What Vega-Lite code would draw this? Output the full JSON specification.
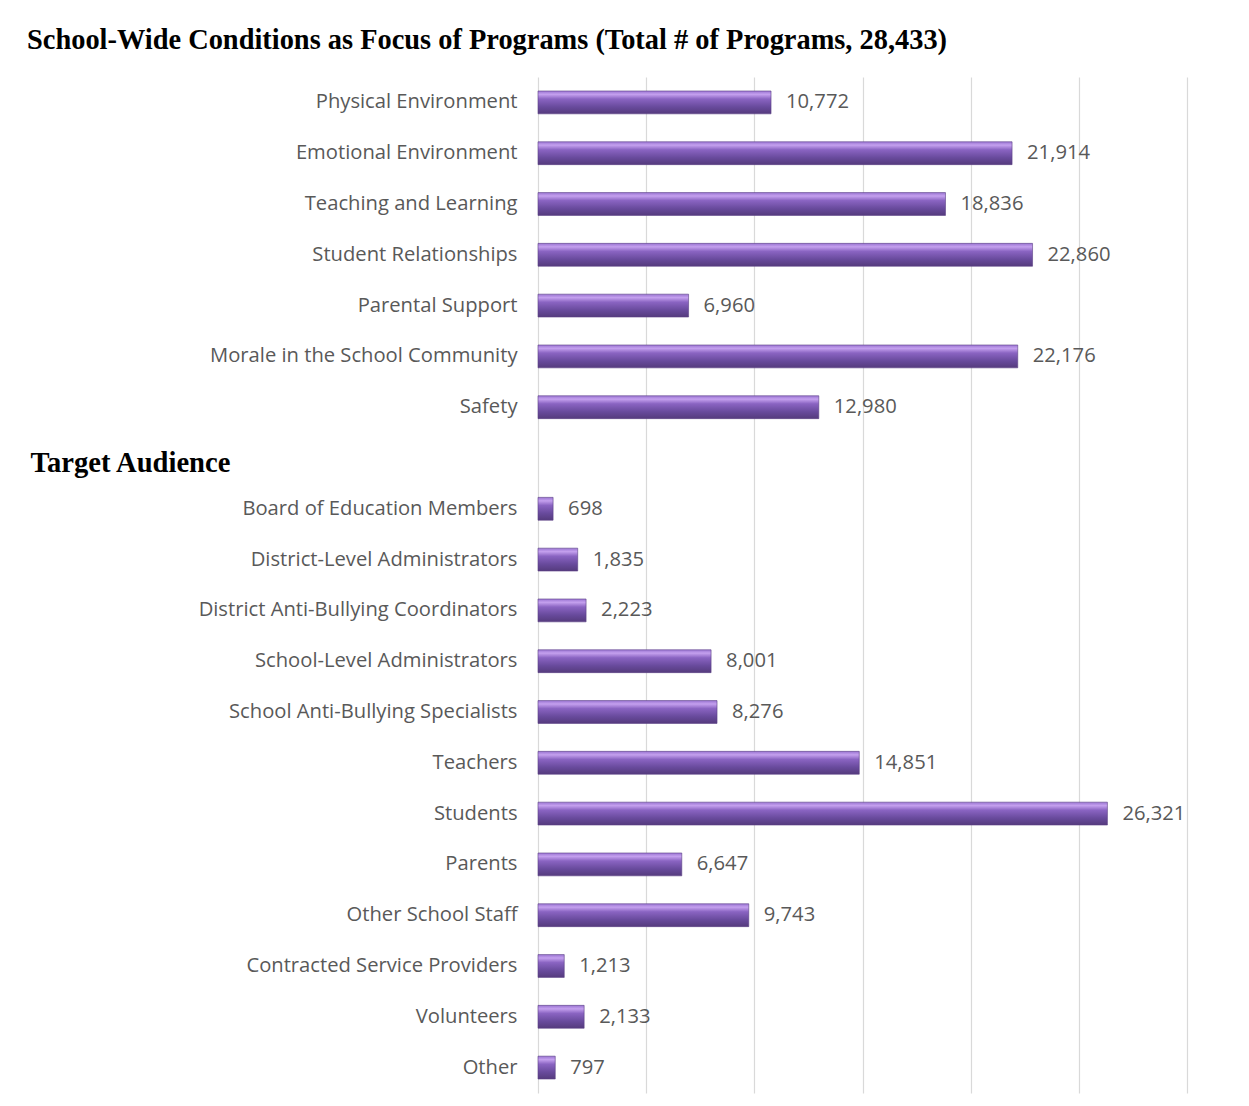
{
  "$schema": "https://vega.github.io/schema/vega-lite/v6.json",
  "autosize": "none",
  "width": 649,
  "height": 1016,
  "padding": {"left": 538, "top": 77, "right": 62, "bottom": 13},
  "background": "white",
  "title": {
    "text": "School-Wide Conditions as Focus of Programs (Total # of Programs, 28,433)",
    "font": "Liberation Serif",
    "fontSize": 28.4,
    "fontWeight": "bold",
    "color": "#000000",
    "anchor": "start",
    "frame": "group",
    "dx": -511,
    "offset": 22
  },
  "data": {
    "values": [
      {"label": "Physical Environment", "value": 10772},
      {"label": "Emotional Environment", "value": 21914},
      {"label": "Teaching and Learning", "value": 18836},
      {"label": "Student Relationships", "value": 22860},
      {"label": "Parental Support", "value": 6960},
      {"label": "Morale in the School Community", "value": 22176},
      {"label": "Safety", "value": 12980},
      {"label": "Board of Education Members", "value": 698},
      {"label": "District-Level Administrators", "value": 1835},
      {"label": "District Anti-Bullying Coordinators", "value": 2223},
      {"label": "School-Level Administrators", "value": 8001},
      {"label": "School Anti-Bullying Specialists", "value": 8276},
      {"label": "Teachers", "value": 14851},
      {"label": "Students", "value": 26321},
      {"label": "Parents", "value": 6647},
      {"label": "Other School Staff", "value": 9743},
      {"label": "Contracted Service Providers", "value": 1213},
      {"label": "Volunteers", "value": 2133},
      {"label": "Other", "value": 797}
    ]
  },
  "encoding": {
    "y": {
      "field": "label",
      "type": "nominal",
      "sort": null,
      "scale": {
        "domain": ["Physical Environment", "Emotional Environment", "Teaching and Learning", "Student Relationships", "Parental Support", "Morale in the School Community", "Safety", "Target Audience", "Board of Education Members", "District-Level Administrators", "District Anti-Bullying Coordinators", "School-Level Administrators", "School Anti-Bullying Specialists", "Teachers", "Students", "Parents", "Other School Staff", "Contracted Service Providers", "Volunteers", "Other"],
        "paddingInner": 0.55,
        "paddingOuter": 0.275
      },
      "axis": {
        "title": null,
        "ticks": false,
        "domain": false,
        "grid": false,
        "labelFont": {"condition": {"test": "datum.value === 'Target Audience'", "value": "Liberation Serif"}, "value": "Open Sans"},
        "labelFontSize": {"condition": {"test": "datum.value === 'Target Audience'", "value": 28.6}, "value": 20.2},
        "labelFontWeight": {"condition": {"test": "datum.value === 'Target Audience'", "value": "bold"}, "value": "normal"},
        "labelColor": {"condition": {"test": "datum.value === 'Target Audience'", "value": "#000000"}, "value": "#595959"},
        "labelAlign": {"condition": {"test": "datum.value === 'Target Audience'", "value": "left"}, "value": "right"},
        "labelPadding": {"condition": {"test": "datum.value === 'Target Audience'", "value": 508}, "value": 21},
        "labelOffset": {"condition": {"test": "datum.value === 'Target Audience'", "value": 5}, "value": 0},
        "labelLimit": 600
      }
    },
    "x": {
      "field": "value",
      "type": "quantitative",
      "scale": {"domain": [0, 30000], "nice": false},
      "axis": {
        "title": null,
        "labels": false,
        "ticks": false,
        "domain": false,
        "grid": true,
        "gridColor": "#d9d9d9",
        "gridWidth": 1.2,
        "values": [0, 5000, 10000, 15000, 20000, 25000, 30000]
      }
    }
  },
  "layer": [
    {
      "mark": {
        "type": "bar",
        "fill": {
          "gradient": "linear",
          "x1": 0, "y1": 0, "x2": 0, "y2": 1,
          "stops": [
            {"offset": 0, "color": "#9a74d2"},
            {"offset": 0.15, "color": "#c4a0ee"},
            {"offset": 0.35, "color": "#8a64c2"},
            {"offset": 0.7, "color": "#684a9c"},
            {"offset": 1, "color": "#553b7d"}
          ]
        },
        "stroke": "#5a3f85",
        "strokeWidth": 0.6
      }
    },
    {
      "mark": {
        "type": "text",
        "align": "left",
        "baseline": "middle",
        "dx": 15,
        "font": "Open Sans",
        "fontSize": 20.2,
        "color": "#595959"
      },
      "encoding": {
        "text": {"field": "value", "type": "quantitative", "format": ","}
      }
    }
  ],
  "config": {
    "view": {"stroke": null}
  }
}
